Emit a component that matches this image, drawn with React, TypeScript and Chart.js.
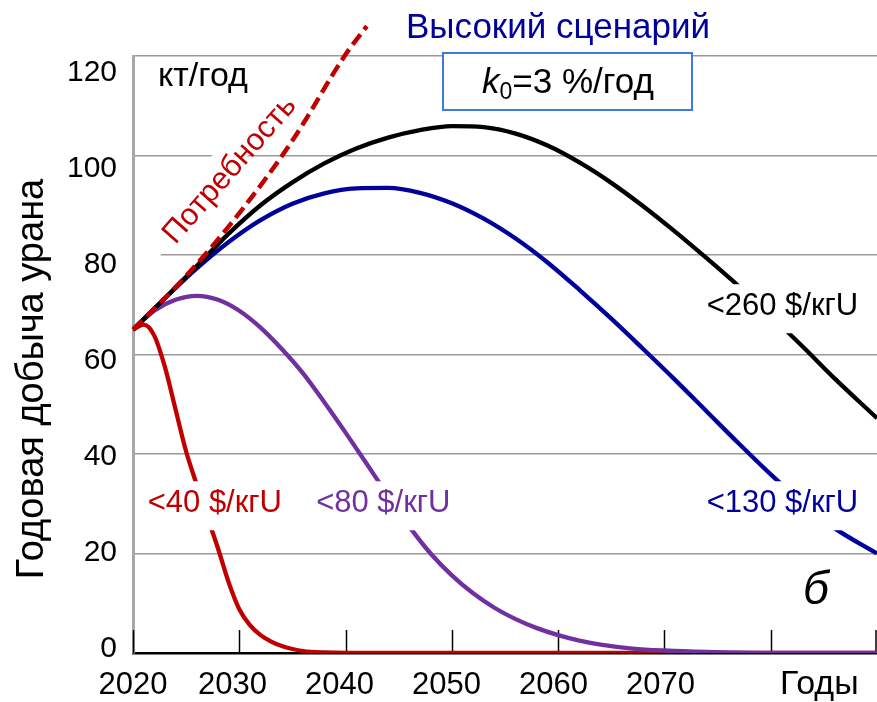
import React, { useEffect, useRef } from "react";
import { Chart, registerables } from "chart.js";

Chart.register(...registerables);

const FONT = '"Liberation Sans", Arial, Helvetica, sans-serif';

// ---- data ----
const demandYears = [2020, 2025, 2030, 2035, 2040, 2042];
const demandValues = [65, 75.8, 88.4, 103, 120.3, 126];

const yearsHigh = [2020, 2023, 2026, 2029, 2032, 2035, 2038, 2041, 2044, 2047, 2050, 2053, 2056, 2059, 2062, 2065, 2068, 2071, 2074, 2077, 2080, 2083, 2086, 2090];
const values260 = [65, 71.3, 77.8, 84.3, 90, 94.6, 98.4, 101.4, 103.6, 105.1, 105.9, 105.7, 104.4, 102, 98.6, 94.5, 89.8, 84.7, 79.3, 73.7, 67.8, 61.6, 55.2, 47.2];
const values130 = [65, 71.3, 77.3, 82.6, 87, 90.3, 92.4, 93.4, 93.5, 92.5, 90.4, 87.3, 83.3, 78.5, 73, 67.2, 61.1, 54.9, 48.5, 42.1, 35.9, 30.2, 25.1, 20];

const years80 = [2020, 2022, 2024, 2026, 2028, 2030, 2032, 2034, 2036, 2038, 2040, 2042, 2044, 2046, 2048, 2050, 2052, 2054, 2056, 2058, 2060, 2062, 2064, 2067, 2070, 2074, 2080, 2090];
const values80 = [65, 68.8, 71, 71.8, 71, 68.8, 65.4, 61.1, 56.2, 50.4, 44.3, 38, 31.6, 25.4, 20, 15.6, 12, 9.1, 6.8, 5, 3.6, 2.5, 1.7, 0.9, 0.5, 0.2, 0, 0];

const years40 = [2020, 2021, 2022, 2023, 2024, 2025, 2026, 2027, 2028, 2029, 2030, 2031, 2032, 2033, 2034, 2035, 2036, 2038, 2040, 2090];
const values40 = [65, 66, 63.8, 57.5, 49, 40.5, 33.8, 27.3, 21, 14.2, 8.8, 5.6, 3.6, 2.3, 1.4, 0.8, 0.4, 0.1, 0, 0];

const xTickValues = [2020, 2030, 2040, 2050, 2060, 2070, 2080, 2090];
const xFirstLabel = 2020;
const xLabelValues = [2030, 2040, 2050, 2060, 2070];
const yTickValues = [0, 20, 40, 60, 80, 100, 120];

const RED = "#c00000";
const PURPLE = "#7030a0";
const NAVY = "#00009a";

const toPoints = (xs: number[], ys: number[]) => xs.map((x, i) => ({ x, y: ys[i] }));

const annotationPlugin = {
  id: "annotations",
  afterLayout(chart: any) {
    // let the inner x axis share the label band with the outer label axis
    const s = chart.scales.x;
    s.bottom = s.top + 49;
    s.height = 49;
  },
  beforeDatasetsDraw(chart: any) {
    const { ctx, scales, chartArea } = chart;
    const x = scales.x;
    ctx.save();
    ctx.strokeStyle = "#000";
    ctx.lineWidth = 1.5;
    x.ticks.forEach((t: any) => {
      const px = Math.min(Math.round(x.getPixelForValue(t.value)) + 0.5, chart.width - 1);
      ctx.beginPath();
      ctx.moveTo(px, chartArea.bottom - 23);
      ctx.lineTo(px, chartArea.bottom);
      ctx.stroke();
    });
    ctx.restore();
  },
  afterDatasetsDraw(chart: any) {
    const { ctx, scales, chartArea } = chart;
    const x = scales.x;
    const y = scales.y;

    // Curve labels with white backgrounds
    const labels = [
      { text: "<260 $/кгU", color: "#000", year: 2081.1, value: 69.9 },
      { text: "<130 $/кгU", color: NAVY, year: 2081.1, value: 30.3 },
      { text: "<40 $/кгU", color: RED, year: 2027.7, value: 30.3 },
      { text: "<80 $/кгU", color: PURPLE, year: 2043.55, value: 30.3 },
    ];
    ctx.save();
    ctx.font = `31px ${FONT}`;
    ctx.textAlign = "center";
    ctx.textBaseline = "middle";
    labels.forEach((l) => {
      const cx = x.getPixelForValue(l.year);
      const cy = y.getPixelForValue(l.value);
      const w = ctx.measureText(l.text).width;
      ctx.fillStyle = "#fff";
      ctx.fillRect(cx - w / 2 - 4, cy - 21, w + 8, 49);
      ctx.fillStyle = l.color;
      ctx.fillText(l.text, cx, cy + 1);
    });
    ctx.restore();

    // "Потребность" rotated along the demand line
    ctx.save();
    ctx.beginPath();
    ctx.rect(chartArea.left + 2, chartArea.top, chartArea.right - chartArea.left, chartArea.bottom - chartArea.top);
    ctx.clip();
    ctx.translate(230, 170);
    ctx.rotate((-48.7 * Math.PI) / 180);
    ctx.fillStyle = "#fff";
    ctx.fillRect(-135, -23, 243, 27);
    ctx.restore();
    ctx.save();
    ctx.translate(230, 170);
    ctx.rotate((-48.7 * Math.PI) / 180);
    ctx.font = `31px ${FONT}`;
    ctx.textAlign = "center";
    ctx.textBaseline = "middle";
    ctx.fillStyle = RED;
    ctx.fillText("Потребность", 0, 0);
    ctx.restore();

    // unit label
    ctx.save();
    ctx.font = `34px ${FONT}`;
    ctx.fillStyle = "#000";
    ctx.textAlign = "left";
    ctx.textBaseline = "alphabetic";
    ctx.fillText("кт/год", 158, 86);
    ctx.restore();

    // k0 box
    ctx.save();
    ctx.fillStyle = "#fff";
    ctx.fillRect(443, 53, 249, 57);
    ctx.strokeStyle = "#3b7ddd";
    ctx.lineWidth = 2;
    ctx.strokeRect(443, 53, 249, 57);
    const fMain = `35px ${FONT}`;
    const fItal = `italic 35px ${FONT}`;
    const fSub = `23px ${FONT}`;
    ctx.font = fItal;
    const wk = ctx.measureText("k").width;
    ctx.font = fSub;
    const w0 = ctx.measureText("0").width;
    ctx.font = fMain;
    const wr = ctx.measureText("=3 %/год").width;
    let sx = 568 - (wk + w0 + wr) / 2;
    const base = 93;
    ctx.fillStyle = "#000";
    ctx.textAlign = "left";
    ctx.textBaseline = "alphabetic";
    ctx.font = fItal;
    ctx.fillText("k", sx, base);
    sx += wk;
    ctx.font = fSub;
    ctx.fillText("0", sx, base + 6);
    sx += w0;
    ctx.font = fMain;
    ctx.fillText("=3 %/год", sx, base);
    ctx.restore();

    // title
    ctx.save();
    ctx.font = `35px ${FONT}`;
    ctx.fillStyle = NAVY;
    ctx.textAlign = "center";
    ctx.textBaseline = "alphabetic";
    ctx.fillText("Высокий сценарий", 558, 38);
    ctx.restore();

    // panel letter
    ctx.save();
    ctx.font = `italic 46px ${FONT}`;
    ctx.fillStyle = "#000";
    ctx.textAlign = "center";
    ctx.textBaseline = "alphabetic";
    ctx.fillText("б", 816, 604);
    ctx.restore();

    // x axis name
    ctx.save();
    ctx.font = `34px ${FONT}`;
    ctx.fillStyle = "#000";
    ctx.textAlign = "left";
    ctx.textBaseline = "alphabetic";
    ctx.fillText("Годы", 780, 694);
    ctx.restore();

    // y axis title
    ctx.save();
    ctx.translate(43, 379);
    ctx.rotate(-Math.PI / 2);
    ctx.font = `38px ${FONT}`;
    ctx.fillStyle = "#000";
    ctx.textAlign = "center";
    ctx.textBaseline = "alphabetic";
    ctx.fillText("Годовая добыча урана", 0, 0);
    ctx.restore();
  },
};

export default function App() {
  const canvasRef = useRef<HTMLCanvasElement | null>(null);

  useEffect(() => {
    if (!canvasRef.current) return;
    const lineBase = {
      pointRadius: 0,
      borderWidth: 4.3,
      fill: false,
      cubicInterpolationMode: "monotone" as const,
    };
    const tickFont = { family: FONT, size: 31 };
    const chart = new Chart(canvasRef.current, {
      type: "line",
      data: {
        datasets: [
          {
            ...lineBase,
            label: "Потребность",
            data: toPoints(demandYears, demandValues),
            borderColor: RED,
            borderWidth: 4.5,
            borderDash: [13, 6],
            clip: false as any,
          },
          { ...lineBase, label: "<260 $/кгU", data: toPoints(yearsHigh, values260), borderColor: "#000" },
          { ...lineBase, label: "<130 $/кгU", data: toPoints(yearsHigh, values130), borderColor: NAVY },
          { ...lineBase, label: "<80 $/кгU", data: toPoints(years80, values80), borderColor: PURPLE },
          { ...lineBase, label: "<40 $/кгU", data: toPoints(years40, values40), borderColor: RED },
        ],
      },
      options: {
        animation: false,
        responsive: false,
        layout: { padding: { top: 56, right: 0, left: 0, bottom: 0 } },
        plugins: { legend: { display: false }, tooltip: { enabled: false } },
        scales: {
          x: {
            type: "linear",
            position: "bottom",
            weight: 0,
            min: 2020,
            max: 2090,
            afterBuildTicks: (s: any) => {
              s.ticks = xTickValues.map((v) => ({ value: v }));
            },
            ticks: {
              autoSkip: false,
              maxRotation: 0,
              padding: 14,
              color: "#000",
              font: tickFont,
              callback: (v: any) => (Number(v) === xFirstLabel ? String(v) : ""),
            },
            grid: { display: false, drawTicks: false },
            border: { color: "#000", width: 2.5 },
            afterFit: (s: any) => {
              s.height = 0;
              s.paddingLeft = 0;
              s.paddingRight = 0;
            },
          },
          xl: {
            type: "linear",
            position: "bottom",
            weight: 1,
            min: 2020.7,
            max: 2090.23,
            afterBuildTicks: (s: any) => {
              s.ticks = xLabelValues.map((v) => ({ value: v }));
            },
            ticks: {
              autoSkip: false,
              maxRotation: 0,
              padding: 14,
              color: "#000",
              font: tickFont,
              callback: (v: any) => String(v),
            },
            grid: { display: false, drawTicks: false },
            border: { display: false },
            afterFit: (s: any) => {
              s.height = 49;
              s.paddingLeft = 0;
              s.paddingRight = 0;
            },
          },
          y: {
            type: "linear",
            position: "left",
            weight: 0,
            min: 0,
            max: 120,
            afterBuildTicks: (s: any) => {
              s.ticks = yTickValues.map((v) => ({ value: v }));
            },
            ticks: { display: false },
            grid: {
              drawTicks: false,
              lineWidth: 1.5,
              color: (c: any) => (c.tick && c.tick.value === 0 ? "rgba(0,0,0,0)" : "#9a9a9a"),
            },
            border: { color: "#a8a8a8", width: 3 },
            afterFit: (s: any) => {
              s.width = 0;
              s.paddingTop = 0;
              s.paddingBottom = 0;
            },
          },
          yl: {
            type: "linear",
            position: "left",
            weight: 1,
            min: -0.83,
            max: 123.54,
            afterBuildTicks: (s: any) => {
              s.ticks = yTickValues.map((v) => ({ value: v }));
            },
            ticks: { color: "#000", padding: 16, font: { family: FONT, size: 30 } },
            grid: { display: false, drawTicks: false },
            border: { display: false },
            afterFit: (s: any) => {
              s.width = 133;
              s.paddingTop = 0;
              s.paddingBottom = 0;
            },
          },
        },
      } as any,
      plugins: [annotationPlugin],
    });
    return () => chart.destroy();
  }, []);

  return (
    <div style={{ position: "fixed", left: 0, top: 0, width: 877, height: 702, background: "#fff" }}>
      <canvas ref={canvasRef} width={877} height={702} style={{ display: "block", width: 877, height: 702 }} />
    </div>
  );
}
